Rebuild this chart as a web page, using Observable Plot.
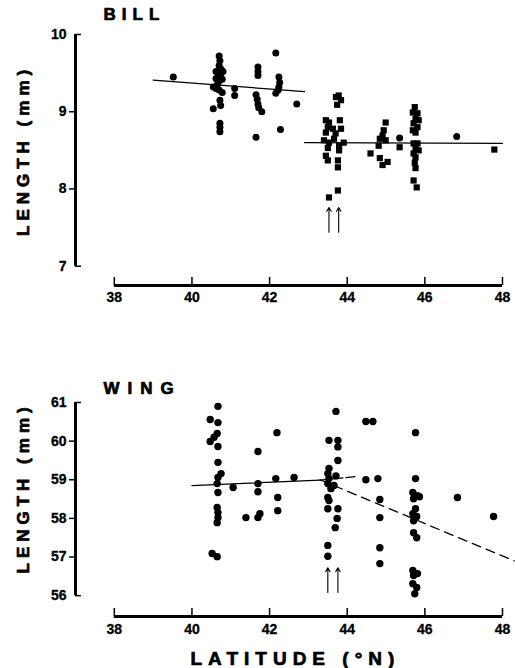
<!DOCTYPE html>
<html><head><meta charset="utf-8">
<script src="https://cdn.jsdelivr.net/npm/d3@7"></script>
<script src="https://cdn.jsdelivr.net/npm/@observablehq/plot@0.6"></script>
<style>
body{margin:0;background:#fff}
#chart{width:515px}
#chart svg{display:block}
</style></head><body><div id="chart"></div>
<script>
// ---------- data ----------
const xTicks = [38, 40, 42, 44, 46, 48];
const billTicks = [7, 8, 9, 10];
const wingTicks = [56, 57, 58, 59, 60, 61];

// BILL: circles (southern samples)
const billCircLat = [39.52, 40.70,40.72,40.70,40.75,40.62,40.80,40.68,40.74,40.62,40.70,40.78,40.66,40.55,40.62,40.70,40.78,40.72,40.74,40.55,40.72,40.72,40.72,
  41.10,41.10, 41.70,41.70,41.70,41.65,41.68,41.70,41.72,41.80,41.65,
  42.16,42.24,42.26,42.24,42.22,42.16,42.28,42.70, 45.35, 46.82];
const billCircLen = [9.45, 9.72,9.66,9.60,9.55,9.52,9.52,9.48,9.45,9.43,9.40,9.42,9.36,9.32,9.30,9.28,9.25,9.15,9.08,9.04,8.85,8.80,8.74,
  9.30,9.21, 9.58,9.52,9.47,9.22,9.16,9.10,9.05,9.00,8.67,
  9.76,9.45,9.38,9.32,9.28,9.24,8.77,9.10, 8.66, 8.68];
// BILL: squares (northern samples)
const billSqLat = [43.71,43.78,43.84,43.74,43.45,43.53,43.81,43.50,43.63,43.45,43.84,43.70,43.40,43.53,43.66,43.91,43.79,43.50,43.45,43.50,43.76,43.79,43.76,43.53,43.76,
  44.99,44.94,44.91,44.84,44.99,44.81,44.84,45.04,44.91,44.60,45.35,
  45.74,45.69,45.81,45.76,45.84,45.71,45.81,45.69,45.76,45.71,45.81,45.76,45.84,45.71,45.76,45.74,45.76,45.71,45.79, 47.79];
const billSqLen = [9.19,9.21,9.15,9.09,8.89,8.86,8.89,8.80,8.78,8.73,8.78,8.72,8.63,8.60,8.65,8.60,8.56,8.53,8.43,8.37,8.37,8.50,8.28,7.89,7.98,
  8.86,8.76,8.69,8.65,8.63,8.56,8.40,8.35,8.31,8.46,8.54,
  9.06,8.99,8.98,8.91,8.89,8.85,8.80,8.76,8.73,8.59,8.59,8.53,8.50,8.46,8.41,8.34,8.27,8.11,8.02, 8.51];
const billFitSouthLat = [39.0, 42.9], billFitSouthLen = [9.41, 9.26];
const billFitNorthLat = [42.9, 48.0], billFitNorthLen = [8.60, 8.59];
const billArrowLat = [43.53, 43.78], billArrowFrom = 7.44, billArrowTo = 7.76;

// WING
const wingLat = [40.67,40.47,40.67,40.65,40.57,40.47,40.67,40.67,40.75,40.67,40.65,40.67,40.65,40.67,40.67,40.65,40.52,40.65,
  41.06, 41.70,41.70,41.70,41.39,41.70,41.75,
  42.19,42.16,42.63,42.21,42.21,
  43.71,43.53,43.76,43.76,43.76,43.53,43.50,43.53,43.71,43.50,43.66,43.58,43.50,43.53,43.50,43.76,43.74,43.69,43.50,43.50,
  44.48,44.66,44.48,44.79,44.84,44.84,44.84,44.84,
  45.76,45.76,45.69,45.81,45.71,45.86,45.76,45.69,45.79,45.71,45.71,45.79,45.69,45.81,45.71,45.69,45.79,45.74,
  46.84, 47.77];
const wingLen = [60.90,60.56,60.48,60.20,60.10,59.99,59.86,59.45,59.16,59.06,58.90,58.67,58.28,58.15,58.02,57.89,57.09,57.01,
  58.80, 59.73,58.90,58.69,58.02,58.02,58.12,
  60.22,59.03,59.06,58.54,58.20,
  60.77,60.02,60.02,59.85,59.50,59.29,59.16,59.03,59.10,58.90,58.85,58.77,58.54,58.46,58.25,58.25,58.00,57.76,57.30,57.02,
  60.51,60.51,59.00,59.03,58.49,58.02,57.24,56.83,
  60.22,59.03,58.67,58.59,58.51,58.56,58.25,58.12,58.05,57.94,57.63,57.50,56.65,56.57,56.52,56.31,56.21,56.05,
  58.54, 58.05];
const wingFitLat = [40.0, 43.3], wingFitLen = [58.85, 58.99];
const wingFitExtLat = [43.3, 44.2], wingFitExtLen = [58.99, 59.08];
const wingDashLat = [43.3, 48.3], wingDashLen = [59.0, 56.9];
const wingArrowLat = [43.50, 43.76], wingArrowFrom = 56.08, wingArrowTo = 56.72;

// ---------- helpers ----------
const F = "'Liberation Sans', Arial, Helvetica, sans-serif";
const pts = (xs, ys) => xs.map((x, i) => ({x, y: ys[i]}));
const YLABEL = "LENGTH (mm)";
const heavy = {fontWeight: "bold", fill: "black", stroke: "black", strokeWidth: 0.7};
const tickText = {fontWeight: "bold", fill: "black", stroke: "black", strokeWidth: 0.3, fontSize: 14};

function panel(o) {
  const W = 515, mL = 75, mR = 13;
  const xDom = [37, 48];
  const pxX = (xDom[1] - xDom[0]) / (W - mL - mR);
  const pxY = (o.yDom[1] - o.yDom[0]) / (o.height - o.mT - o.mB);
  const yB = o.yDom[0];
  const yT = o.yTicks;
  const ends = [yT[0], yT[yT.length - 1]];
  const mids = yT.slice(1, -1);
  const marks = [
    // x axis
    Plot.ruleY([yB], {x1: xTicks[0], x2: xTicks[xTicks.length - 1], strokeWidth: 3}),
    Plot.ruleX(xTicks, {x: d => d, y1: yB, y2: yB + 8 * pxY, strokeWidth: 1.5}),
    Plot.text(xTicks, {x: d => d, y: yB, dy: o.xLabDy, text: d => String(d), ...tickText}),
    // y axis
    Plot.ruleX([xDom[0]], {y1: yT[0], y2: yT[yT.length - 1], strokeWidth: 3}),
    Plot.ruleY(mids, {y: d => d, x1: xDom[0] - 6 * pxX, x2: xDom[0], strokeWidth: 1.5}),
    Plot.ruleY(ends, {y: d => d, x1: xDom[0], x2: xDom[0] + 6 * pxX, strokeWidth: 1.5}),
    Plot.text(yT, {x: xDom[0], y: d => d, dx: -9, text: d => String(d), textAnchor: "end", ...tickText}),
    // titles
    Plot.text([o.title], {frameAnchor: "top-left", dx: 28, dy: o.titleDy, textAnchor: "start", lineAnchor: "middle", fontSize: 17, ...heavy}),
    Plot.text([YLABEL], {frameAnchor: "left", dx: -52, dy: o.ylabDy, rotate: -90, textAnchor: "start", lineAnchor: "middle", fontSize: 17, ...heavy}),
    ...o.marks
  ];
  if (o.xlabel) marks.push(Plot.text([o.xlabel], {frameAnchor: "bottom-left", dx: 115, dy: 42, textAnchor: "start", lineAnchor: "middle", fontSize: 19, ...heavy}));
  const svg = Plot.plot({
    width: W, height: o.height,
    marginLeft: mL, marginRight: mR, marginTop: o.mT, marginBottom: o.mB,
    x: {domain: xDom, axis: null},
    y: {domain: o.yDom, axis: null},
    style: {fontFamily: F, color: "black", background: "white", overflow: "visible"},
    marks
  });
  const spacing = {[o.title]: o.titleSpacing, [YLABEL]: "5px"};
  if (o.xlabel) spacing[o.xlabel] = "6px";
  d3.select(svg).selectAll("text").each(function() {
    const s = spacing[this.textContent];
    if (s) this.style.letterSpacing = s;
  });
  return svg;
}

const bill = panel({
  height: 330, mT: 34, mB: 45, yDom: [6.75, 10], yTicks: billTicks,
  title: "BILL", titleSpacing: "6px", titleDy: -20, ylabDy: 76, xLabDy: 12,
  marks: [
    Plot.line(pts(billFitSouthLat, billFitSouthLen), {x: "x", y: "y", strokeWidth: 1.3}),
    Plot.line(pts(billFitNorthLat, billFitNorthLen), {x: "x", y: "y", strokeWidth: 1.3}),
    Plot.dot(pts(billCircLat, billCircLen), {x: "x", y: "y", r: 3.5, fill: "black"}),
    Plot.dot(pts(billSqLat, billSqLen), {x: "x", y: "y", r: 3.5, symbol: "square", fill: "black"}),
    Plot.arrow(billArrowLat, {x1: d => d, x2: d => d, y1: billArrowFrom, y2: billArrowTo, headLength: 6, strokeWidth: 1.1})
  ]
});

const wing = panel({
  height: 338, mT: 72, mB: 52, yDom: [55.46, 61], yTicks: wingTicks,
  title: "WING", titleSpacing: "8px", titleDy: -14, ylabDy: 64, xLabDy: 13, xlabel: "LATITUDE (°N)",
  marks: [
    Plot.line(pts(wingFitLat, wingFitLen), {x: "x", y: "y", strokeWidth: 1.3}),
    Plot.line(pts(wingFitExtLat, wingFitExtLen), {x: "x", y: "y", strokeWidth: 1.3, strokeDasharray: "10,3"}),
    Plot.line(pts(wingDashLat, wingDashLen), {x: "x", y: "y", strokeWidth: 1.3, strokeDasharray: "9,6"}),
    Plot.dot(pts(wingLat, wingLen), {x: "x", y: "y", r: 3.7, fill: "black"}),
    Plot.arrow(wingArrowLat, {x1: d => d, x2: d => d, y1: wingArrowFrom, y2: wingArrowTo, headLength: 6, strokeWidth: 1.1})
  ]
});

const el = document.getElementById("chart");
el.appendChild(bill);
el.appendChild(wing);
</script></body></html>
